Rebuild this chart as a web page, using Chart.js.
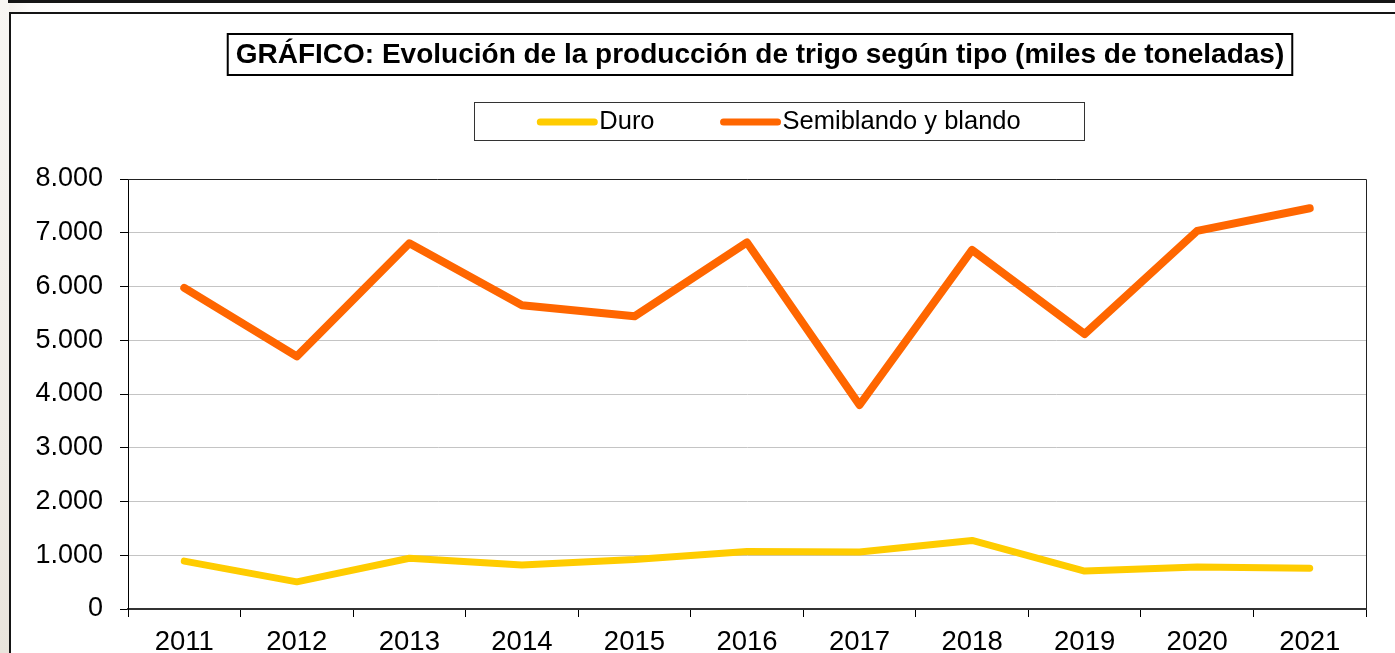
<!DOCTYPE html>
<html>
<head>
<meta charset="utf-8">
<script src="https://cdn.jsdelivr.net/npm/chart.js@4.4.0/dist/chart.umd.min.js"></script>
<style>
    body {
        margin: 0;
        width: 1395px;
        height: 653px;
        overflow: hidden;
        position: relative;
        background: linear-gradient(to right, #f2eee8 0px, #f6f3ef 9px, #fdfcfb 30px, #ffffff 80px);
    }
    .strip {
        position: absolute; left: 0; top: 0; width: 9px; height: 653px;
        background: linear-gradient(to bottom, #f8f6f3, #efebe5 70%, #e9e4dc);
    }
    .topline {
        position: absolute; left: 8px; top: 0; width: 1400px; height: 3px;
        background: #151515;
    }
    .frame {
        position: absolute; left: 9px; top: 12px; width: 1400px; height: 700px;
        border: 2px solid #151515;
        background: #fff;
    }
    #chart {
        position: absolute; left: 0; top: 0;
    }
</style>
</head>
<body>
<div class="strip"></div>
<div class="topline"></div>
<div class="frame"></div>
<canvas id="chart" width="1395" height="653"></canvas>
<script>
    // data (miles de toneladas)
    const years = ['2011', '2012', '2013', '2014', '2015', '2016', '2017', '2018', '2019', '2020', '2021'];
    const duro = [890, 505, 945, 820, 920, 1070, 1060, 1275, 705, 780, 760];
    const semiblando = [5975, 4700, 6805, 5650, 5445, 6820, 3795, 6680, 5115, 7035, 7455];

    const titleText = 'GRÁFICO: Evolución de la producción de trigo según tipo (miles de toneladas)';
    const fontFamily = "'Liberation Sans', Arial, sans-serif";

    function formatThousands(v) {
        // 8000 -> 8.000
        return String(v).replace(/\B(?=(\d{3})+(?!\d))/g, '.');
    }

    // draws the plot frame, the boxed title and the boxed legend
    const boxedHeader = {
        id: 'boxedHeader',
        beforeDatasetsDraw: function(chart) {
            const ctx = chart.ctx;
            const a = chart.chartArea;
            ctx.save();
            ctx.strokeStyle = '#222';
            ctx.lineWidth = 1;
            ctx.beginPath();
            ctx.moveTo(a.left, a.top + 0.5);
            ctx.lineTo(a.right + 0.5, a.top + 0.5);
            ctx.lineTo(a.right + 0.5, a.bottom);
            ctx.stroke();
            ctx.restore();
        },
        afterDraw: function(chart, args, options) {
            const ctx = chart.ctx;
            ctx.save();

            // title
            ctx.font = 'bold ' + options.titleSize + 'px ' + fontFamily;
            const tw = ctx.measureText(options.title).width;
            const bx = options.titleCenter - tw / 2 - 8;
            ctx.fillStyle = '#fff';
            ctx.fillRect(bx, options.titleTop, tw + 16, options.titleHeight);
            ctx.strokeStyle = '#000';
            ctx.lineWidth = 2;
            ctx.strokeRect(bx, options.titleTop, tw + 16, options.titleHeight);
            ctx.fillStyle = '#000';
            ctx.textAlign = 'center';
            ctx.textBaseline = 'middle';
            ctx.fillText(options.title, options.titleCenter, options.titleTop + options.titleHeight / 2 + 1);

            // legend
            const lg = options.legend;
            ctx.lineWidth = 1;
            ctx.strokeStyle = '#333';
            ctx.strokeRect(lg.x + 0.5, lg.y + 0.5, lg.width, lg.height);

            ctx.font = lg.fontSize + 'px ' + fontFamily;
            const items = chart.data.datasets.map(ds => ({
                label: ds.label,
                color: ds.borderColor,
                width: ctx.measureText(ds.label).width
            }));
            let total = 0;
            items.forEach((it, i) => {
                total += lg.swatch + lg.gap + it.width;
                if (i > 0) total += lg.spacing;
            });
            let x = lg.x + (lg.width - total) / 2;
            const cy = lg.y + lg.height / 2 + 1;
            ctx.textAlign = 'left';
            ctx.textBaseline = 'middle';
            ctx.lineCap = 'round';
            items.forEach((it) => {
                ctx.strokeStyle = it.color;
                ctx.lineWidth = 7;
                ctx.beginPath();
                ctx.moveTo(x + 3, cy);
                ctx.lineTo(x + lg.swatch - 3, cy);
                ctx.stroke();
                x += lg.swatch + lg.gap;
                ctx.fillStyle = '#000';
                ctx.fillText(it.label, x, cy);
                x += it.width + lg.spacing;
            });

            ctx.restore();
        }
    };

    const config = {
        type: 'line',
        data: {
            labels: years,
            datasets: [{
                label: 'Duro',
                data: duro,
                borderColor: '#FFCC00',
                backgroundColor: '#FFCC00',
                borderWidth: 7,
                borderCapStyle: 'round',
                borderJoinStyle: 'round',
                pointRadius: 0,
                tension: 0
            }, {
                label: 'Semiblando y blando',
                data: semiblando,
                borderColor: '#FF6600',
                backgroundColor: '#FF6600',
                borderWidth: 8,
                borderCapStyle: 'round',
                borderJoinStyle: 'round',
                pointRadius: 0,
                tension: 0
            }]
        },
        options: {
            responsive: false,
            animation: false,
            devicePixelRatio: 1,
            layout: {
                padding: { left: 0, top: 179, right: 29, bottom: 0 }
            },
            scales: {
                x: {
                    offset: true,
                    grid: {
                        offset: true,
                        drawOnChartArea: false,
                        tickLength: 8,
                        tickColor: '#000'
                    },
                    border: { color: '#333', width: 2 },
                    ticks: {
                        color: '#000',
                        font: { family: fontFamily, size: 27.5 },
                        padding: 9,
                        maxRotation: 0,
                        autoSkip: false
                    },
                    afterFit: function(scale) {
                        scale.height = 44;
                    }
                },
                y: {
                    min: 0,
                    max: 8000,
                    grid: {
                        color: '#c4c4c4',
                        tickLength: 8,
                        tickColor: '#000'
                    },
                    border: { color: '#000', width: 1 },
                    ticks: {
                        stepSize: 1000,
                        color: '#000',
                        padding: 17,
                        font: { family: fontFamily, size: 27 },
                        callback: function(value) {
                            return formatThousands(value);
                        }
                    },
                    afterFit: function(scale) {
                        scale.width = 128;
                    }
                }
            },
            plugins: {
                legend: { display: false },
                tooltip: { enabled: false },
                boxedHeader: {
                    title: titleText,
                    titleSize: 28,
                    titleCenter: 760,
                    titleTop: 34,
                    titleHeight: 41,
                    legend: {
                        x: 474, y: 102, width: 610, height: 38,
                        fontSize: 25.5,
                        swatch: 60,
                        gap: 2,
                        spacing: 66
                    }
                }
            }
        },
        plugins: [boxedHeader]
    };

    const chart = new Chart(document.getElementById('chart'), config);
</script>
</body>
</html>
